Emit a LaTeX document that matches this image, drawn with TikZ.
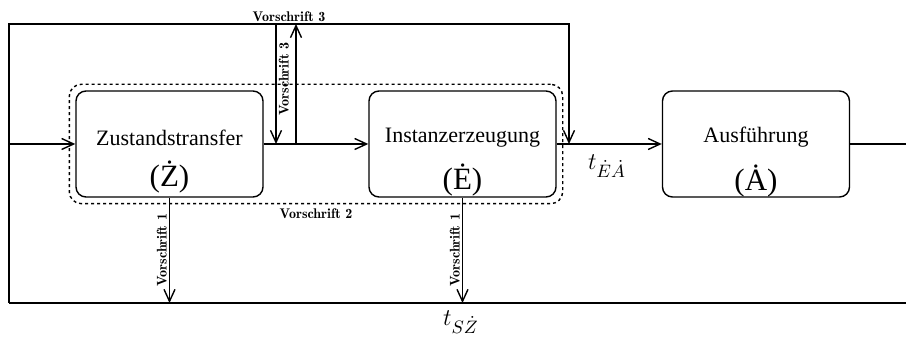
\documentclass[tikz,border=0pt]{standalone}
\usepackage{fontspec}
\newfontfamily\boxfont{Liberation Serif}
\newfontfamily\demifont[Extension=.otf]{lmromandemi10-regular}
\usetikzlibrary{arrows.meta,calc,fit,positioning}

\begin{document}
\begin{tikzpicture}[x=0.5pt, y=-0.5pt, >={Straight Barb[length=6pt,width=5.5pt]}, line width=0.7pt,
    phase/.style={draw, rounded corners=5pt, minimum width=93.5pt, minimum height=53pt},
    phasetext/.style={font=\boxfont\fontsize{11}{13}\selectfont, align=center},
    vlabel/.style={font=\demifont\fontsize{7}{8}\selectfont, inner sep=1pt},
    phasegroup/.style={draw, dash pattern=on 1.5pt off 1.5pt, rounded corners=6pt, inner sep=3pt},
    tlabel/.style={font=\fontsize{13}{15}\selectfont}]
    \useasboundingbox (0,0) rectangle (906,341);
    \node[phase] (Z) at (169.5,144) {};
    \node[phase] (E) at (462.5,144) {};
    \node[phase] (A) at (756,144) {};
    \node[phasetext] (Ztext) at ($(Z)+(0,18)$) {Zustandstransfer\\[7.5pt]{\fontsize{15.5}{17}\selectfont(Ż)}};
    \node[phasetext] (Etext) at ($(E)+(0,18)$) {Instanzerzeugung\\[7.5pt]{\fontsize{15.5}{17}\selectfont(Ė)}};
    \node[phasetext] (Atext) at ($(A)+(0,18)$) {Ausführung\\[7.5pt]{\fontsize{15.5}{17}\selectfont(Ȧ)}};
    \node[phasegroup, fit=(Z)(E), label={[vlabel, label distance=1pt]below:Vorschrift 2}] (ZE) {};
    % Rahmen und Rueckfuehrungen
    \coordinate (In) at (9,144);   \coordinate (Out) at (906,144);
    \coordinate (BL) at (9,303);   \coordinate (BR) at (906,303);
    \coordinate (TL) at (9,24);    \coordinate (TR) at (569,24);   \coordinate (JR) at (569,144);
    \coordinate (T3) at (276,24);  \coordinate (J3) at (276,144);
    \coordinate (T3b) at (296,24); \coordinate (J3b) at (296,144);
    \draw[->] (In) -- (Z);
    \draw[->] (Z) -- (E);
    \draw[->] (E) -- (A);
    \draw (A) -- (Out);
    \draw[->] (BL) -- (TL) -- (TR) -- (JR);
    \draw (BL) -- (BR);
    \draw[->] (T3) -- (J3) node[pos=0.46, vlabel, rotate=90, anchor=north] {Vorschrift 3};
    \draw[->] (J3b) -- (T3b);
    \node[vlabel, above] (V3) at (289,24) {Vorschrift 3};
    \draw[->] (Z) -- (Z |- BL) node[midway, vlabel, rotate=90, anchor=south] {Vorschrift 1};
    \draw[->] (E) -- (E |- BL) node[midway, vlabel, rotate=90, anchor=south] {Vorschrift 1};
    \node[tlabel] (tEA) at (607,166) {$t_{\dot E\dot A}$};
    \node[tlabel] (tSZ) at (461,322) {$t_{S\dot Z}$};
\end{tikzpicture}
\end{document}
